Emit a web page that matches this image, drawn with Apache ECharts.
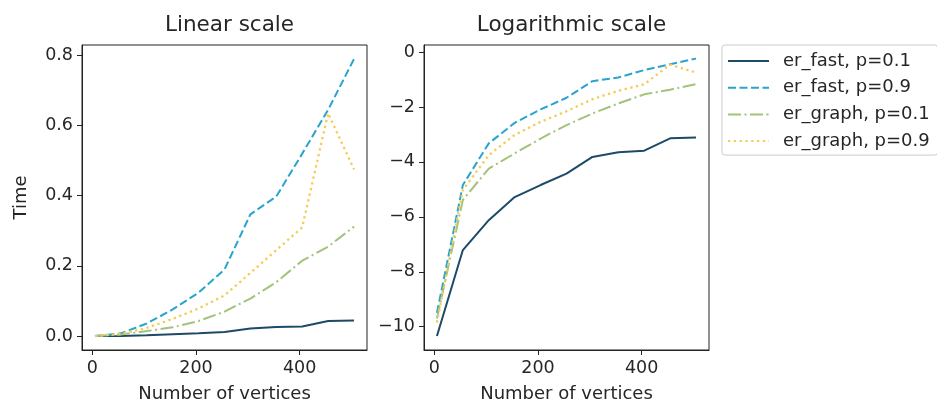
<!DOCTYPE html>
<html>
<head>
<meta charset="utf-8">
<script src="https://cdn.jsdelivr.net/npm/echarts@6/dist/echarts.min.js"></script>
<style>
  html, body { margin: 0; padding: 0; background: #fff; }
  #chart { width: 937px; height: 404px; }
</style>
</head>
<body>
<div id="chart"></div>
<script>
// Graph sizes (number of vertices) used in the benchmark
const vertices = [5, 55, 105, 155, 205, 255, 305, 355, 405, 455, 505];

// Generation time in seconds for each generator / edge probability
const erFastP01  = [0.0000324, 0.00074, 0.0022, 0.0051, 0.0079, 0.012, 0.022, 0.026, 0.0276, 0.0433, 0.0446];
const erFastP09  = [0.000075, 0.0079, 0.036, 0.076, 0.124, 0.19, 0.347, 0.398, 0.52, 0.645, 0.79];
const erGraphP01 = [0.000061, 0.0046, 0.0144, 0.025, 0.043, 0.07, 0.107, 0.154, 0.215, 0.255, 0.312];
const erGraphP09 = [0.000053, 0.0066, 0.0235, 0.049, 0.079, 0.116, 0.18, 0.245, 0.31, 0.635, 0.475];

const seriesNames = ['er_fast, p=0.1', 'er_fast, p=0.9', 'er_graph, p=0.1', 'er_graph, p=0.9'];
const panelTitles = ['Linear scale', 'Logarithmic scale'];

// Tick positions and their labels
const xTicks = [0, 200, 400];
const xTickLabels = ['0', '200', '400'];
const linearTicks = [0, 0.2, 0.4, 0.6, 0.8];
const linearTickLabels = ['0.0', '0.2', '0.4', '0.6', '0.8'];
const logTicks = [-10, -8, -6, -4, -2, 0];
const logTickLabels = ['\u221210', '\u22128', '\u22126', '\u22124', '\u22122', '0'];

const FONT = 'DejaVu Sans';
const TEXT = '#262626';
const colors = ['#1d4a66', '#29a5cd', '#a3c27b', '#f3cc55'];
const widths = [2, 2, 2, 2.3];
const dashes = ['solid', [8, 3.5], [13, 3.5, 2, 3.5], [2.3, 3.5]];
const allTimes = [erFastP01, erFastP09, erGraphP01, erGraphP09];

const chart = echarts.init(document.getElementById('chart'), null, { renderer: 'canvas' });

function labeler(ticks, labels) {
  return v => {
    const i = ticks.findIndex(t => Math.abs(t - v) < 1e-9);
    return i >= 0 ? labels[i] : '';
  };
}

function xAxis(gridIndex) {
  return {
    type: 'value', gridIndex, min: -20, max: 530,
    name: 'Number of vertices', nameLocation: 'middle', nameGap: 35,
    nameTextStyle: { fontFamily: FONT, fontSize: 18, color: TEXT },
    axisLine: { show: true, onZero: false, lineStyle: { color: '#222', width: 1 } },
    splitLine: { show: false },
    axisTick: { show: true, inside: false, length: 5, customValues: xTicks, lineStyle: { color: '#222', width: 1 } },
    axisLabel: { show: true, margin: 9, customValues: xTicks, fontFamily: FONT, fontSize: 17.5, color: TEXT,
                 formatter: labeler(xTicks, xTickLabels) }
  };
}

function yAxis(gridIndex, min, max, ticks, labels, name) {
  return {
    type: 'value', gridIndex, min, max,
    name: name || '', nameLocation: 'middle', nameGap: 52,
    nameTextStyle: { fontFamily: FONT, fontSize: 18, color: TEXT },
    axisLine: { show: true, onZero: false, lineStyle: { color: '#222', width: 1 } },
    splitLine: { show: false },
    axisTick: { show: true, inside: false, length: 5, customValues: ticks, lineStyle: { color: '#222', width: 1 } },
    axisLabel: { show: true, margin: 9, customValues: ticks, fontFamily: FONT, fontSize: 17.5, color: TEXT,
                 formatter: labeler(ticks, labels) }
  };
}

const series = [];
allTimes.forEach((times, i) => {
  const common = {
    type: 'line', name: seriesNames[i], symbol: 'none', smooth: false, animation: false,
    lineStyle: { color: colors[i], width: widths[i], type: dashes[i], cap: 'butt' },
    itemStyle: { color: colors[i] }, z: 2 + i
  };
  series.push(Object.assign({}, common, {
    xAxisIndex: 0, yAxisIndex: 0,
    data: vertices.map((v, k) => [v, times[k]])
  }));
  series.push(Object.assign({}, common, {
    xAxisIndex: 1, yAxisIndex: 1,
    data: vertices.map((v, k) => [v, Math.log(times[k])])
  }));
});

const gridBase = { top: 45, width: 285, height: 305, show: true, borderColor: '#222', borderWidth: 1,
                   backgroundColor: 'transparent', containLabel: false, outerBoundsMode: 'none' };

chart.setOption({
  animation: false,
  textStyle: { fontFamily: FONT },
  title: [
    { text: panelTitles[0], left: 224.5, top: 9, textAlign: 'center',
      textStyle: { fontFamily: FONT, fontSize: 21.5, fontWeight: 'normal', color: TEXT } },
    { text: panelTitles[1], left: 566.5, top: 9, textAlign: 'center',
      textStyle: { fontFamily: FONT, fontSize: 21.5, fontWeight: 'normal', color: TEXT } }
  ],
  grid: [
    Object.assign({ left: 82 }, gridBase),
    Object.assign({ left: 424 }, gridBase)
  ],
  xAxis: [xAxis(0), xAxis(1)],
  yAxis: [
    yAxis(0, -0.0395, 0.8295, linearTicks, linearTickLabels, 'Time'),
    yAxis(1, -10.85, 0.26, logTicks, logTickLabels)
  ],
  legend: {
    data: seriesNames,
    orient: 'vertical', left: 722, top: 45,
    itemWidth: 41, itemHeight: 14, itemGap: 6.7,
    padding: [6, 8, 4, 5],
    borderColor: '#cccccc', borderWidth: 1, borderRadius: 3,
    backgroundColor: '#fff',
    selectedMode: false,
    itemStyle: { opacity: 0 },
    textStyle: { fontFamily: FONT, fontSize: 18, color: TEXT, lineHeight: 20, padding: [0, 0, 0, 9] }
  },
  series
});
</script>
</body>
</html>
